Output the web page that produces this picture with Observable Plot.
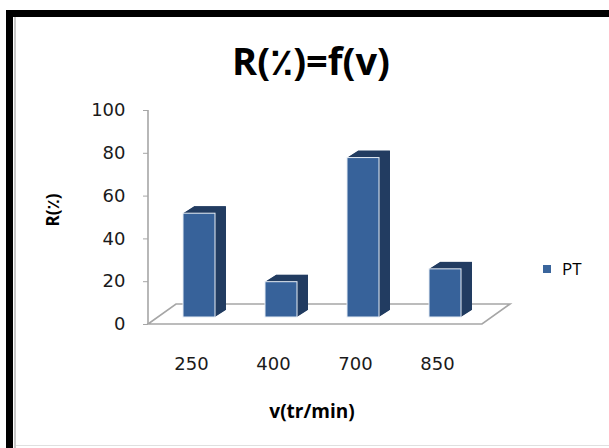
<!DOCTYPE html>
<html><head><meta charset="utf-8">
<script src="https://cdn.jsdelivr.net/npm/d3@7"></script>
<script src="https://cdn.jsdelivr.net/npm/@observablehq/plot@0.6"></script>
<style>
body{margin:0;background:#fff;}
#wrap{position:relative;width:609px;height:448px;overflow:hidden;background:#fff;font-family:"Open Sans","DejaVu Sans",sans-serif;}
#chart{position:absolute;left:0;top:0;}
.frameTop{position:absolute;left:6px;top:10px;width:603px;height:7px;background:#000;}
.frameLeft{position:absolute;left:6px;top:10px;width:7px;height:438px;background:#000;}
.innerLeft{position:absolute;left:14px;top:17px;width:2px;height:431px;background:#c8c8c8;}
.bottomLine{position:absolute;left:16px;top:445px;width:593px;height:1px;background:#e0e0e0;}
#title{position:absolute;left:0;width:622px;top:36px;text-align:center;font-weight:700;font-size:38px;line-height:48px;color:#000;}
#ylab{position:absolute;left:52px;top:210px;transform:translate(-50%,-50%) rotate(-90deg);font-weight:700;font-size:17px;white-space:nowrap;color:#000;}
#xlab{position:absolute;left:312px;top:411px;transform:translate(-50%,-50%);font-weight:700;font-size:19px;white-space:nowrap;color:#000;}
#legend{position:absolute;left:543px;top:257px;display:flex;align-items:center;font-size:17px;color:#000;}
#legend .sw{width:8px;height:8px;background:#3a659c;margin-right:11px;}
</style></head><body>
<div id="wrap">
  <div id="chart"></div>
  <div class="frameTop"></div><div class="frameLeft"></div><div class="innerLeft"></div><div class="bottomLine"></div>
  <div id="title"></div>
  <div id="ylab"></div>
  <div id="xlab"></div>
  <div id="legend"><div class="sw"></div><span id="legText"></span></div>
</div>
<script>
// ---- data ----
const speeds = ["250", "400", "700", "850"];
const yieldPT = [48.5, 16.5, 74.5, 22.5];
const yTicks = [0, 20, 40, 60, 80, 100];
const seriesName = "PT";
const titleText = "R(\u066A)=f(v)";
const yLabelText = "R(\u066A)";
const xLabelText = "v(tr/min)";

const data = speeds.map((v, i) => ({v, r: yieldPT[i]}));

document.getElementById("title").textContent = titleText;
document.getElementById("ylab").textContent = yLabelText;
document.getElementById("xlab").textContent = xLabelText;
document.getElementById("legText").textContent = seriesName;

const frontColor = "#37629a";
const sideColor = "#223c61";
const gridGray = "#a6a6a6";
const depthX = 11, depthY = 7, offX = 8, offY = -7;

// floor and value-axis line drawn from the plot's own scales
function floor(index, scales, values, dims) {
  const y0 = scales.y(0), y1 = scales.y(100);
  const xl = dims.marginLeft, xr = dims.width - dims.marginRight;
  const g = d3.create("svg:g");
  g.append("path")
    .attr("d", `M${xl},${y0}L${xr},${y0}L${xr + 28},${y0 - 20}L${xl + 28},${y0 - 20}Z`)
    .attr("fill", "#fff").attr("stroke", gridGray).attr("stroke-width", 1.6);
  g.append("line").attr("x1", xl).attr("x2", xl).attr("y1", y0).attr("y2", y1)
    .attr("stroke", gridGray).attr("stroke-width", 1.6);
  return g.node();
}

const steps = [];
for (let i = 1; i <= 22; i++) steps.push(i / 22);
const extrusion = steps.map(t => Plot.barY(data, {
  x: "v", y: "r", fill: sideColor,
  dx: offX + t * depthX, dy: offY - t * depthY
}));

const chart = Plot.plot({
  width: 609, height: 448,
  marginLeft: 148, marginRight: 127, marginTop: 110, marginBottom: 124,
  style: {fontFamily: "'DejaVu Sans', sans-serif", fontSize: "18px", color: "#1a1a1a", background: "transparent"},
  x: {type: "band", domain: speeds, range: [150, 478], paddingInner: 0.61, paddingOuter: 0.305, align: 0.5},
  y: {domain: [0, 100]},
  marks: [
    floor,
    ...extrusion,
    Plot.barY(data, {x: "v", y: "r", fill: frontColor, stroke: "#e8eef6", strokeWidth: 1, dx: offX, dy: offY}),
    Plot.axisY({ticks: yTicks, tickSize: 5, tickPadding: 18, stroke: gridGray, fill: "#1a1a1a", label: null, fontSize: 18}),
    Plot.axisX({tickSize: 0, tickPadding: 33, label: null, fill: "#1a1a1a", fontSize: 18})
  ]
});
document.getElementById("chart").appendChild(chart);
</script>
</body></html>
